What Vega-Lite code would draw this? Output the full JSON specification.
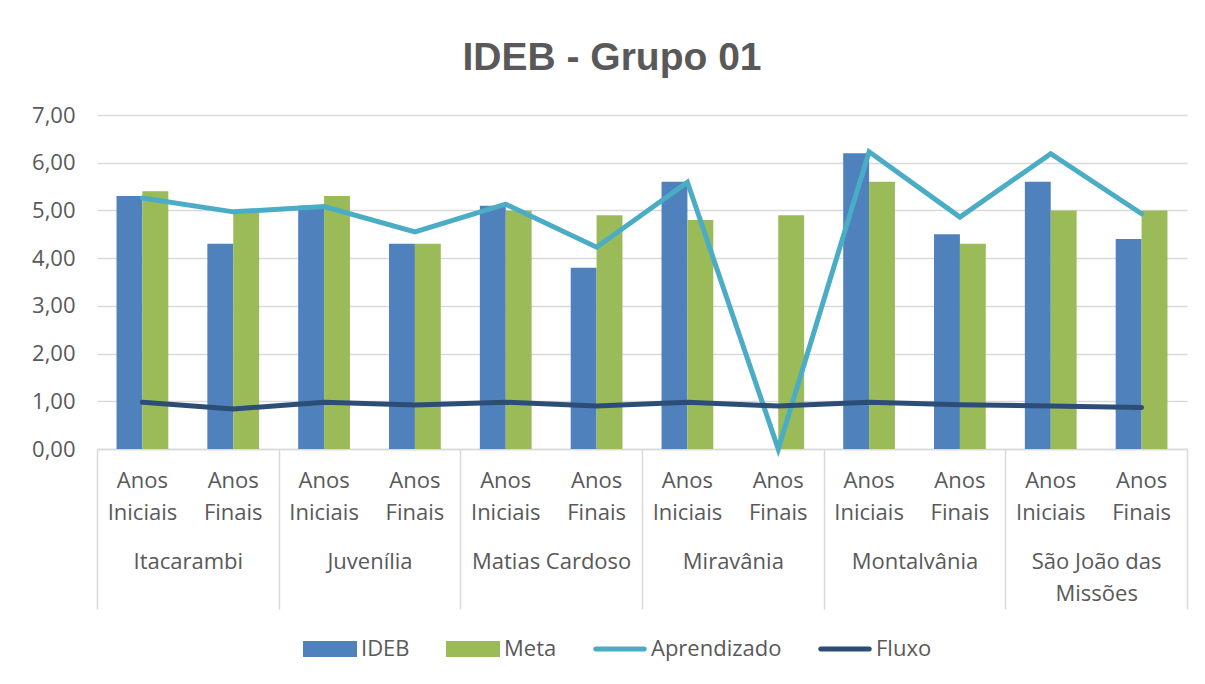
{
  "$schema": "https://vega.github.io/schema/vega-lite/v6.json",
  "width": 1090,
  "height": 334,
  "autosize": {"type": "none"},
  "padding": {"left": 97, "top": 115, "right": 18, "bottom": 235},
  "background": "white",
  "title": {
    "text": "IDEB - Grupo 01",
    "font": "Liberation Sans",
    "fontSize": 39,
    "fontWeight": "bold",
    "color": "#595959",
    "anchor": "middle",
    "baseline": "alphabetic",
    "offset": -5,
    "dx": -30
  },
  "config": {
    "view": {"stroke": null},
    "font": "Open Sans"
  },
  "data": {
    "values": [
      {"cat": "01 Anos Iniciais", "municipio": "Itacarambi", "IDEB": 5.3, "Meta": 5.4, "Aprendizado": 5.26, "Fluxo": 0.98},
      {"cat": "02 Anos Finais", "municipio": "Itacarambi", "IDEB": 4.3, "Meta": 5.0, "Aprendizado": 4.97, "Fluxo": 0.84},
      {"cat": "03 Anos Iniciais", "municipio": "Juvenília", "IDEB": 5.1, "Meta": 5.3, "Aprendizado": 5.08, "Fluxo": 0.98},
      {"cat": "04 Anos Finais", "municipio": "Juvenília", "IDEB": 4.3, "Meta": 4.3, "Aprendizado": 4.55, "Fluxo": 0.92},
      {"cat": "05 Anos Iniciais", "municipio": "Matias Cardoso", "IDEB": 5.1, "Meta": 5.0, "Aprendizado": 5.13, "Fluxo": 0.98},
      {"cat": "06 Anos Finais", "municipio": "Matias Cardoso", "IDEB": 3.8, "Meta": 4.9, "Aprendizado": 4.23, "Fluxo": 0.9},
      {"cat": "07 Anos Iniciais", "municipio": "Miravânia", "IDEB": 5.6, "Meta": 4.8, "Aprendizado": 5.59, "Fluxo": 0.98},
      {"cat": "08 Anos Finais", "municipio": "Miravânia", "IDEB": null, "Meta": 4.9, "Aprendizado": 0.0, "Fluxo": 0.9},
      {"cat": "09 Anos Iniciais", "municipio": "Montalvânia", "IDEB": 6.2, "Meta": 5.6, "Aprendizado": 6.23, "Fluxo": 0.98},
      {"cat": "10 Anos Finais", "municipio": "Montalvânia", "IDEB": 4.5, "Meta": 4.3, "Aprendizado": 4.86, "Fluxo": 0.93},
      {"cat": "11 Anos Iniciais", "municipio": "São João das Missões", "IDEB": 5.6, "Meta": 5.0, "Aprendizado": 6.19, "Fluxo": 0.9},
      {"cat": "12 Anos Finais", "municipio": "São João das Missões", "IDEB": 4.4, "Meta": 5.0, "Aprendizado": 4.93, "Fluxo": 0.87}
    ]
  },
  "resolve": {"scale": {"x": "independent"}, "axis": {"x": "independent"}},
  "layer": [
    {
      "encoding": {
        "x": {
          "field": "cat",
          "type": "nominal",
          "scale": {"paddingInner": 0.43, "paddingOuter": 0.215},
          "axis": {
            "orient": "bottom",
            "title": null,
            "labelExpr": "split(substring(datum.label, 3), ' ')",
            "labelAngle": 0,
            "labelFont": "Open Sans",
            "labelFontSize": 22,
            "labelColor": "#595959",
            "labelLineHeight": 32,
            "labelPadding": 21,
            "ticks": false,
            "domain": true,
            "domainColor": "#D9D9D9",
            "domainWidth": 1.5,
            "grid": false
          }
        },
        "y": {
          "type": "quantitative",
          "scale": {"domain": [0, 7], "nice": false},
          "axis": {
            "title": null,
            "values": [0, 1, 2, 3, 4, 5, 6, 7],
            "labelExpr": "replace(format(datum.value, '.2f'), '.', ',')",
            "labelFont": "Open Sans",
            "labelFontSize": 22,
            "labelColor": "#595959",
            "labelPadding": 22,
            "domain": false,
            "ticks": false,
            "grid": true,
            "gridColor": "#D9D9D9",
            "gridWidth": 1.5
          }
        },
        "color": {
          "field": "serie",
          "type": "nominal",
          "scale": {
            "domain": ["IDEB", "Meta", "Aprendizado", "Fluxo"],
            "range": ["#4F81BD", "#9BBB59", "#4BACC6", "#2C4D75"]
          },
          "legend": {
            "orient": "none",
            "legendX": 206,
            "legendY": 507,
            "direction": "horizontal",
            "title": null,
            "labelFont": "Open Sans",
            "labelFontSize": 22,
            "labelColor": "#595959",
            "labelOffset": 4,
            "columnPadding": 36,
            "symbolSize": 2916,
            "symbolStrokeWidth": 0,
            "symbolOpacity": 1,
            "encode": {
              "symbols": {
                "update": {
                  "shape": {"signal": "datum.value == 'IDEB' || datum.value == 'Meta' ? 'M-1,-0.3H1V0.3H-1Z' : 'M-0.9,-0.09H0.9A0.09,0.09,0,0,1,0.9,0.09H-0.9A0.09,0.09,0,0,1,-0.9,-0.09Z'"},
                  "fill": {"signal": "scale('color', datum.value)"},
                  "fillOpacity": {"value": 1},
                  "strokeWidth": {"value": 0}
                }
              }
            }
          }
        }
      },
      "layer": [
        {
          "transform": [{"fold": ["IDEB", "Meta"], "as": ["serie", "valor"]}],
          "mark": {"type": "bar"},
          "encoding": {
            "xOffset": {"field": "serie", "type": "nominal", "sort": ["IDEB", "Meta"], "scale": {"paddingInner": 0, "paddingOuter": 0}},
            "y": {"field": "valor", "type": "quantitative"}
          }
        },
        {
          "transform": [{"fold": ["Aprendizado", "Fluxo"], "as": ["serie", "valor"]}],
          "mark": {"type": "line", "strokeWidth": 5, "strokeJoin": "miter", "strokeCap": "round"},
          "encoding": {
            "y": {"field": "valor", "type": "quantitative"}
          }
        }
      ]
    },
    {
      "mark": {"type": "rule", "opacity": 0},
      "encoding": {
        "x": {
          "field": "municipio",
          "type": "nominal",
          "scale": {"paddingInner": 0, "paddingOuter": 0},
          "axis": {
            "orient": "bottom",
            "title": null,
            "labelAngle": 0,
            "labelExpr": "datum.label == 'São João das Missões' ? ['São João das', 'Missões'] : datum.label",
            "labelFont": "Open Sans",
            "labelFontSize": 22,
            "labelColor": "#595959",
            "labelLineHeight": 32,
            "labelPadding": -58,
            "labelLimit": 300,
            "tickBand": "extent",
            "ticks": true,
            "tickSize": 160,
            "tickColor": "#D9D9D9",
            "tickWidth": 1.5,
            "domain": false,
            "grid": false
          }
        }
      }
    }
  ]
}
